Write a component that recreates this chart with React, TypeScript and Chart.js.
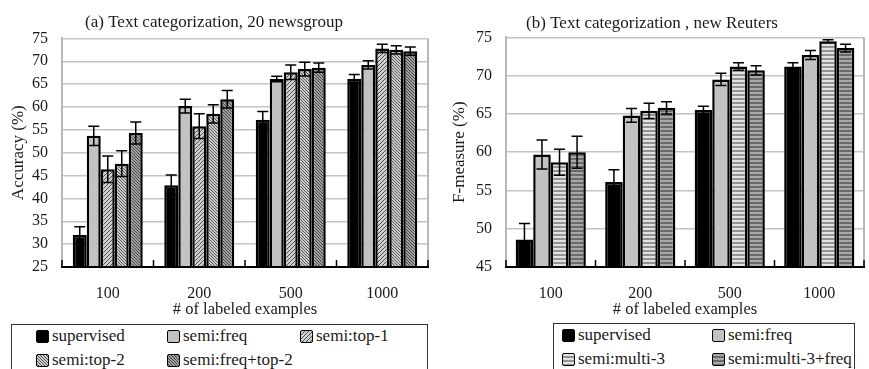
import React, { useEffect, useRef } from "react";
import { Chart, registerables } from "chart.js";

Chart.register(...registerables);

// ---------------- data ----------------
const categories = ["100", "200", "500", "1000"];
const xTitle = "# of labeled examples";

// (a) Text categorization, 20 newsgroup — accuracy
const aTitle = "(a) Text categorization, 20 newsgroup";
const aYTitle = "Accuracy (%)";
const aYMin = 25;
const aYMax = 75;
const aYStep = 5;
const aSeriesNames = ["supervised", "semi:freq", "semi:top-1", "semi:top-2", "semi:freq+top-2"];
const aSupervised = [32.0, 42.9, 57.2, 66.2];
const aFreq = [53.7, 60.2, 66.1, 69.2];
const aTop1 = [46.4, 55.8, 67.6, 72.8];
const aTop2 = [47.6, 58.5, 68.3, 72.5];
const aFreqTop2 = [54.3, 61.7, 68.6, 72.2];
const aSupervisedErr = [1.8, 2.2, 1.8, 0.9];
const aFreqErr = [2.1, 1.5, 0.6, 0.9];
const aTop1Err = [2.9, 2.7, 1.6, 0.9];
const aTop2Err = [2.8, 2.0, 1.5, 0.9];
const aFreqTop2Err = [2.4, 1.9, 1.0, 0.9];

// (b) Text categorization, new Reuters — F-measure
const bTitle = "(b) Text categorization , new Reuters";
const bYTitle = "F-measure (%)";
const bYMin = 45;
const bYMax = 75;
const bYStep = 5;
const bSeriesNames = ["supervised", "semi:freq", "semi:multi-3", "semi:multi-3+freq"];
const bSupervised = [48.6, 56.1, 65.5, 71.2];
const bFreq = [59.7, 64.8, 69.5, 72.7];
const bMulti3 = [58.7, 65.4, 71.2, 74.5];
const bMulti3Freq = [60.0, 65.8, 70.7, 73.6];
const bSupervisedErr = [2.1, 1.6, 0.5, 0.5];
const bFreqErr = [1.9, 0.9, 0.8, 0.6];
const bMulti3Err = [1.7, 1.0, 0.5, 0.2];
const bMulti3FreqErr = [2.1, 0.8, 0.6, 0.5];

// ---------------- styles ----------------
const FONT = "Liberation Serif";
const TEXT = "#1a1a1a";
const GRID = "#c4c4c4";

type FillKind = "black" | "light" | "diagUp" | "diagDown" | "diagDownDark" | "hStripe" | "hStripeDark";

function makeTile(kind: FillKind): HTMLCanvasElement {
  const c = document.createElement("canvas");
  const ctx = c.getContext("2d")!;
  const fill = (col: string, x: number, y: number, w: number, h: number) => {
    ctx.fillStyle = col;
    ctx.fillRect(x, y, w, h);
  };
  if (kind === "black") {
    c.width = c.height = 4;
    fill("#000", 0, 0, 4, 4);
  } else if (kind === "light") {
    c.width = c.height = 4;
    fill("#c2c2c2", 0, 0, 4, 4);
  } else if (kind === "diagUp") {
    c.width = c.height = 4;
    fill("#cfcfcf", 0, 0, 4, 4);
    for (let i = 0; i < 4; i++) fill("#4e4e4e", i, 3 - i, 1, 1);
  } else if (kind === "diagDown") {
    c.width = c.height = 3;
    fill("#cacaca", 0, 0, 3, 3);
    for (let i = 0; i < 3; i++) fill("#5a5a5a", i, i, 1, 1);
  } else if (kind === "diagDownDark") {
    c.width = c.height = 3;
    fill("#a0a0a0", 0, 0, 3, 3);
    for (let i = 0; i < 3; i++) fill("#474747", i, i, 1, 1);
  } else if (kind === "hStripe") {
    c.width = 4;
    c.height = 4;
    fill("#e2e2e2", 0, 0, 4, 2);
    fill("#929292", 0, 2, 4, 2);
  } else {
    c.width = 4;
    c.height = 4;
    fill("#a8a8a8", 0, 0, 4, 2);
    fill("#6a6a6a", 0, 2, 4, 2);
  }
  return c;
}

const aFills: FillKind[] = ["black", "light", "diagUp", "diagDown", "diagDownDark"];
const bFills: FillKind[] = ["black", "light", "hStripe", "hStripeDark"];

const errorBarPlugin = {
  id: "errorBars",
  afterDatasetsDraw(chart: any) {
    const ctx = chart.ctx;
    const y = chart.scales.y;
    const cap = 5.5;
    ctx.save();
    ctx.strokeStyle = "#000";
    ctx.lineWidth = 1.5;
    chart.data.datasets.forEach((ds: any, i: number) => {
      const meta = chart.getDatasetMeta(i);
      meta.data.forEach((el: any, j: number) => {
        const v = ds.data[j];
        const e = ds.errors[j];
        const x = el.x;
        const yt = y.getPixelForValue(v + e);
        const yb = y.getPixelForValue(v - e);
        ctx.beginPath();
        ctx.moveTo(x, yt);
        ctx.lineTo(x, yb);
        ctx.moveTo(x - cap, yt);
        ctx.lineTo(x + cap, yt);
        ctx.moveTo(x - cap, yb);
        ctx.lineTo(x + cap, yb);
        ctx.stroke();
      });
    });
    ctx.restore();
  },
};

const framePlugin = {
  id: "frame",
  beforeDatasetsDraw(chart: any) {
    const { ctx, chartArea } = chart;
    ctx.save();
    ctx.strokeStyle = "#b8b8b8";
    ctx.lineWidth = 2;
    ctx.beginPath();
    ctx.moveTo(chartArea.right, chartArea.top);
    ctx.lineTo(chartArea.right, chartArea.bottom);
    ctx.stroke();
    ctx.restore();
  },
  afterDatasetsDraw(chart: any) {
    const { ctx, chartArea } = chart;
    const xs = chart.scales.x;
    ctx.save();
    ctx.strokeStyle = "#000";
    ctx.lineWidth = 1.5;
    for (let k = 0; k <= categories.length; k++) {
      const px = xs.getPixelForValue(k - 0.5);
      ctx.beginPath();
      ctx.moveTo(px, chartArea.bottom);
      ctx.lineTo(px, chartArea.bottom - 7);
      ctx.stroke();
    }
    ctx.restore();
  },
};

type Series = { name: string; data: number[]; err: number[]; fill: FillKind };

type PanelProps = {
  left: number;
  width: number;
  height: number;
  title: string;
  yTitle: string;
  yMin: number;
  yMax: number;
  yStep: number;
  series: Series[];
  yAxisWidth: number;
  padRight: number;
  titlePadTop: number;
  titlePadBottom: number;
  yTitlePad: number;
  xAxisHeight: number;
  catPct: number;
};

function ChartPanel(p: PanelProps) {
  const ref = useRef<HTMLCanvasElement | null>(null);
  useEffect(() => {
    const canvas = ref.current!;
    const ctx = canvas.getContext("2d")!;
    const datasets = p.series.map((s) => ({
      label: s.name,
      data: s.data,
      errors: s.err,
      backgroundColor: ctx.createPattern(makeTile(s.fill), "repeat"),
      borderColor: "#000",
      borderWidth: 2.5,
      categoryPercentage: p.catPct,
      barPercentage: 1.0,
    }));
    const chart = new Chart(canvas, {
      type: "bar",
      data: { labels: categories, datasets: datasets as any },
      plugins: [framePlugin, errorBarPlugin],
      options: {
        responsive: false,
        animation: false,
        layout: { padding: { left: 0, right: p.padRight, top: 0, bottom: 0 } },
        plugins: {
          legend: { display: false },
          tooltip: { enabled: false },
          title: {
            display: true,
            text: p.title,
            color: TEXT,
            font: { family: FONT, size: 17, weight: "normal" as any },
            padding: { top: p.titlePadTop, bottom: p.titlePadBottom },
          },
        },
        scales: {
          x: {
            type: "category",
            offset: true,
            grid: { display: false, drawTicks: false },
            border: { display: true, color: "#000", width: 2, z: 1 },
            ticks: {
              color: TEXT,
              font: { family: FONT, size: 16 },
              padding: 17.5,
              maxRotation: 0,
              autoSkip: false,
            },
            title: {
              display: true,
              text: xTitle,
              color: TEXT,
              font: { family: FONT, size: 16.5 },
              padding: { top: 0, bottom: 0 },
            },
            afterFit: (s: any) => {
              s.height = p.xAxisHeight;
            },
          },
          y: {
            min: p.yMin,
            max: p.yMax,
            ticks: {
              stepSize: p.yStep,
              padding: 14,
              color: TEXT,
              font: { family: FONT, size: 16 },
            },
            grid: { color: GRID, lineWidth: 1.5, drawTicks: false },
            border: { color: "#b8b8b8", width: 2 },
            title: {
              display: true,
              text: p.yTitle,
              color: TEXT,
              font: { family: FONT, size: 17 },
              padding: { top: p.yTitlePad, bottom: 0 },
            },
            afterFit: (s: any) => {
              s.width = p.yAxisWidth;
            },
          },
        },
      } as any,
    });
    return () => chart.destroy();
  }, []);
  return (
    <canvas
      ref={ref}
      width={p.width}
      height={p.height}
      style={{ position: "absolute", left: p.left, top: 0, width: p.width, height: p.height, display: "block" }}
    />
  );
}

function tileUrl(kind: FillKind): string {
  return makeTile(kind).toDataURL();
}

type LegendItem = { name: string; fill: FillKind; x: number; y: number };

function Legend(props: { box: { left: number; top: number; width: number; height: number }; items: LegendItem[] }) {
  return (
    <>
      <div
        style={{
          position: "absolute",
          left: props.box.left,
          top: props.box.top,
          width: props.box.width,
          height: props.box.height,
          border: "1.5px solid #333",
          boxSizing: "border-box",
        }}
      />
      {props.items.map((it) => (
        <div
          key={it.name}
          style={{
            position: "absolute",
            left: it.x,
            top: it.y - 10,
            height: 20,
            display: "flex",
            alignItems: "center",
            whiteSpace: "nowrap",
          }}
        >
          <div
            style={{
              width: 13,
              height: 13,
              boxSizing: "border-box",
              border: "1.5px solid #000",
              borderRadius: 2,
              backgroundImage: `url(${tileUrl(it.fill)})`,
              marginRight: 3,
            }}
          />
          <span style={{ fontFamily: "'Liberation Serif', 'Times New Roman', Times, serif", fontSize: "17px", color: TEXT, lineHeight: "20px" }}>
            {it.name}
          </span>
        </div>
      ))}
    </>
  );
}

export default function App() {
  const aData = [aSupervised, aFreq, aTop1, aTop2, aFreqTop2];
  const aErr = [aSupervisedErr, aFreqErr, aTop1Err, aTop2Err, aFreqTop2Err];
  const bData = [bSupervised, bFreq, bMulti3, bMulti3Freq];
  const bErr = [bSupervisedErr, bFreqErr, bMulti3Err, bMulti3FreqErr];
  const aSeries: Series[] = aSeriesNames.map((n, i) => ({ name: n, data: aData[i], err: aErr[i], fill: aFills[i] }));
  const bSeries: Series[] = bSeriesNames.map((n, i) => ({ name: n, data: bData[i], err: bErr[i], fill: bFills[i] }));

  const aLegendCols = [36, 167, 300];
  const aLegendRows = [336, 360];
  const aItems: LegendItem[] = aSeriesNames.map((n, i) => ({
    name: n,
    fill: aFills[i],
    x: aLegendCols[i % 3],
    y: aLegendRows[Math.floor(i / 3)],
  }));
  const bLegendCols = [562, 712];
  const bLegendRows = [335, 359];
  const bItems: LegendItem[] = bSeriesNames.map((n, i) => ({
    name: n,
    fill: bFills[i],
    x: bLegendCols[i % 2],
    y: bLegendRows[Math.floor(i / 2)],
  }));

  return (
    <div
      style={{
        position: "absolute",
        left: 0,
        top: 0,
        width: 869,
        height: 369,
        overflow: "hidden",
        background: "#fff",
      }}
    >
      <ChartPanel
        left={0}
        width={440}
        height={320}
        title={aTitle}
        yTitle={aYTitle}
        yMin={aYMin}
        yMax={aYMax}
        yStep={aYStep}
        series={aSeries}
        yAxisWidth={62}
        padRight={12}
        titlePadTop={12}
        titlePadBottom={6}
        yTitlePad={8}
        xAxisHeight={53}
        catPct={0.765}
      />
      <ChartPanel
        left={440}
        width={429}
        height={320}
        title={bTitle}
        yTitle={bYTitle}
        yMin={bYMin}
        yMax={bYMax}
        yStep={bYStep}
        series={bSeries}
        yAxisWidth={66}
        padRight={5}
        titlePadTop={13}
        titlePadBottom={4}
        yTitlePad={9}
        xAxisHeight={53}
        catPct={0.784}
      />
      <Legend box={{ left: 11, top: 324, width: 417, height: 60 }} items={aItems} />
      <Legend box={{ left: 553, top: 323, width: 302, height: 60 }} items={bItems} />
    </div>
  );
}
